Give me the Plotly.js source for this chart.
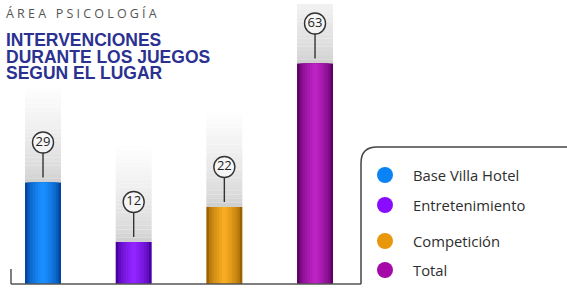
<!DOCTYPE html>
<html><head><meta charset="utf-8">
<script src="https://cdn.plot.ly/plotly-3.0.1.min.js"></script>
<style>html,body{margin:0;padding:0;background:#fff}#c{width:567px;height:288px}</style>
</head><body><div id="c"></div>
<script>
const categories = ['Base Villa Hotel','Entretenimiento','Competición','Total'];
const values = [29, 12, 22, 63];
const legendColors = ['#0a84f5','#8a0cff','#e8960a','#a50aa8'];
const colorsDark = ['#0047a0','#4800a0','#9c6200','#5e0066'];
const colorsLight = ['#1a8eff','#9224ff','#f7ab22','#bc22c4'];
const subtitle = 'ÁREA PSICOLOGÍA';
const titleLines = ['INTERVENCIONES','DURANTE LOS JUEGOS','SEGUN EL LUGAR'];

const W = 567, H = 288;
const mL = 11, mR = 206, mT = 4, mB = 4;
const plotW = W - mL - mR, plotH = H - mT - mB;
const yMax = 80;
const ppu = plotH / yMax;
const xRange = [-0.353, 3.507];
const ppx = plotW / (xRange[1] - xRange[0]);
const barW = 36 / ppx;

function hex2rgb(h){return [1,3,5].map(i=>parseInt(h.substr(i,2),16));}
function mix(a,b,t){const A=hex2rgb(a),B=hex2rgb(b);return 'rgb('+A.map((v,i)=>Math.round(v+(B[i]-v)*t)).join(',')+')';}

const traces = [];
// grey fading glow above each bar
const N = 24, glowPx = 100;
const seg = glowPx / ppu / N;
for (let k = 0; k < N; k++) {
  const t = k / (N - 1);
  const g = Math.round(208 + (255 - 208) * Math.pow(t, 0.7));
  traces.push({type:'bar', x:categories, y:values.map(()=>seg*1.02), base:values.map(v=>v + k*seg),
    width:barW, marker:{color:`rgb(${g},${g},${g})`, line:{width:0}}, hoverinfo:'skip', showlegend:false});
}
// bars with horizontal shading
const L = 7;
for (let j = 0; j < L; j++) {
  const f = 1 - j / L;
  const t = j / (L - 1);
  traces.push({type:'bar', x:categories, y:values, width:barW*f,
    marker:{color:colorsDark.map((c,i)=>mix(c, colorsLight[i], Math.pow(t,0.6))), line:{width:0}},
    hoverinfo:'skip', showlegend:false});
}
// value bubbles
const bubbleOff = 40 / ppu;
traces.push({type:'scatter', mode:'markers+text', x:categories, y:values.map(v=>v + bubbleOff),
  text:values.map(String), textposition:'middle center',
  textfont:{family:'Open Sans, sans-serif', size:13, color:'#222'},
  marker:{size:21, color:'rgba(255,255,255,0.55)', line:{width:1.4, color:'#333'}},
  cliponaxis:false, hoverinfo:'skip', showlegend:false});

const shapes = [];
values.forEach((v,i)=>{
  shapes.push({type:'line', xref:'x', yref:'y', x0:i, x1:i, y0:v + 5/ppu, y1:v + (40-10.5)/ppu,
    line:{color:'#333', width:1.4}});
});
// baseline and left tick
shapes.push({type:'line', xref:'paper', yref:'paper', x0:0, x1:1, y0:0, y1:0, line:{color:'#555', width:1.5}});
shapes.push({type:'line', xref:'paper', yref:'paper', x0:0, x1:0, y0:0, y1:15/plotH, line:{color:'#555', width:1.5}});
// legend frame with rounded corner
const px = x => (x - mL) / plotW;
const py = y => (H - mB - y) / plotH;
const r = 16;
shapes.push({type:'path', xref:'paper', yref:'paper',
  path:`M ${px(361)},${py(284)} L ${px(361)},${py(147 + r)} Q ${px(361)},${py(147)} ${px(361 + r)},${py(147)} L ${px(568)},${py(147)}`,
  line:{color:'#444', width:1.5}});
const legY = [175, 205, 241, 270];
const annotations = [];
categories.forEach((c,i)=>{
  shapes.push({type:'circle', xref:'paper', yref:'paper', xsizemode:'pixel', ysizemode:'pixel',
    xanchor:px(385), yanchor:py(legY[i]), x0:-8, x1:8, y0:-8, y1:8,
    fillcolor:legendColors[i], line:{width:0}});
  annotations.push({xref:'paper', yref:'paper', x:px(411), y:py(legY[i]), xanchor:'left', yanchor:'middle',
    text:c, showarrow:false, font:{family:'Open Sans, sans-serif', size:14.8, color:'#2e2e2e'}});
});
annotations.push({xref:'paper', yref:'paper', x:px(4), y:py(14), xanchor:'left', yanchor:'middle',
  text:subtitle, showarrow:false, font:{family:'Open Sans, sans-serif', size:12.5, color:'#555'}});
const tY = [40, 56.5, 72.5];
titleLines.forEach((t,i)=>{
  annotations.push({xref:'paper', yref:'paper', x:px(4), y:py(tY[i]), xanchor:'left', yanchor:'middle',
    text:'<b>'+t+'</b>', showarrow:false, font:{family:'Liberation Sans, Arial, sans-serif', size:17.5, color:'#2b3190'}});
});

const layout = {
  width:W, height:H, margin:{l:mL, r:mR, t:mT, b:mB},
  paper_bgcolor:'#fff', plot_bgcolor:'#fff', barmode:'overlay', showlegend:false,
  xaxis:{type:'category', range:xRange, showgrid:false, showline:false, zeroline:false, showticklabels:false, ticks:''},
  yaxis:{range:[0,yMax], showgrid:false, showline:false, zeroline:false, showticklabels:false, ticks:''},
  shapes, annotations
};
Plotly.newPlot('c', traces, layout, {staticPlot:true, displayModeBar:false}).then(()=>{
  document.querySelectorAll('.annotation-text').forEach(el=>{
    if (el.textContent === subtitle) {
      const b0 = el.getBBox();
      el.style.letterSpacing = '3.2px';
      const b1 = el.getBBox();
      const prev = el.getAttribute('transform') || '';
      el.setAttribute('transform', prev + ` translate(${b0.x - b1.x},0)`);
    }
  });
});
</script></body></html>
